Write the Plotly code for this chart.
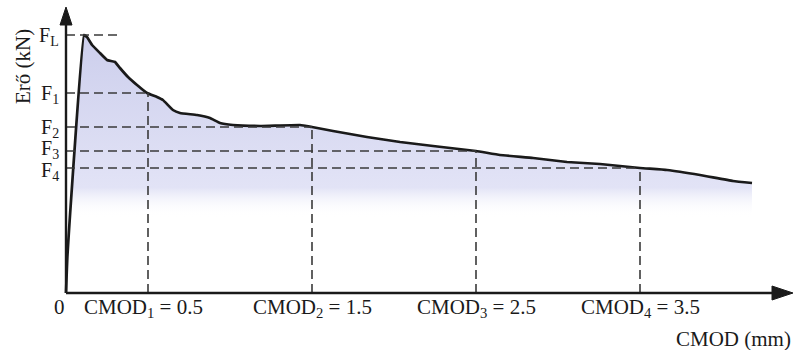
import plotly.graph_objects as go

# ---- data (CMOD in mm, force in arbitrary kN-like units) ----
cmod = [0.0, 0.009, 0.110, 0.128, 0.159, 0.207, 0.250, 0.299, 0.329, 0.378, 0.433,
        0.494, 0.555, 0.591, 0.652, 0.695, 0.799, 0.878, 0.939, 1.018, 1.183, 1.427,
        1.5, 1.628, 1.835, 2.037, 2.238, 2.5, 2.646, 2.848, 3.055, 3.256, 3.5, 3.665,
        3.866, 4.067, 4.183]
force = [0.0, 1.9, 12.9, 12.8, 12.4, 12.0, 11.65, 11.55, 11.25, 10.8, 10.4,
         10.0, 9.8, 9.65, 9.15, 9.0, 8.9, 8.75, 8.5, 8.4, 8.35, 8.4,
         8.3, 8.1, 7.8, 7.55, 7.35, 7.1, 6.9, 6.75, 6.55, 6.45, 6.25, 6.15,
         5.9, 5.6, 5.5]

level_labels = ["F<sub>L</sub>", "F<sub>1</sub>", "F<sub>2</sub>", "F<sub>3</sub>", "F<sub>4</sub>"]
level_values = [12.9, 10.0, 8.3, 7.1, 6.25]
level_ends = [0.317, 0.5, 1.5, 2.5, 3.5]

cmod_ticks = [0.5, 1.5, 2.5, 3.5]
cmod_forces = [10.0, 8.3, 7.1, 6.25]
cmod_labels = ["CMOD<sub>1</sub> = 0.5", "CMOD<sub>2</sub> = 1.5",
               "CMOD<sub>3</sub> = 2.5", "CMOD<sub>4</sub> = 3.5"]

x_title = "CMOD (mm)"
y_title = "Erő (kN)"

# ---- layout / style (pixel offsets, not data) ----
PX_PER_X = 164.0
PX_PER_Y = 20.0
X0_PX, Y0_PX = 66.0, 293.0
W, H = 796, 350
xr = [-X0_PX / PX_PER_X, (W - X0_PX) / PX_PER_X]
yr = [-(H - Y0_PX) / PX_PER_Y, Y0_PX / PX_PER_Y]
label_yshift = [-1, -1, -1, 2, -3]

def dx(px):
    return px / PX_PER_X

def dy(px):
    return px / PX_PER_Y

FONT = "Liberation Serif, Times New Roman, serif"
INK = "#1a1a1a"
DASH_COL = "#3a3a3a"
FS = 21

fig = go.Figure()

# filled curve with vertical gradient
fig.add_trace(go.Scatter(
    x=cmod, y=force, mode="lines",
    line=dict(color=INK, width=2.7, shape="spline", smoothing=0.3),
    fill="tozeroy",
    fillgradient=dict(type="vertical", start=3.8, stop=13.0,
                      colorscale=[[0, "rgba(255,255,255,0)"],
                                  [0.16, "rgb(226,227,246)"],
                                  [1, "rgb(204,206,236)"]]),
    hoverinfo="skip", showlegend=False,
))

shapes = []
# horizontal dashed reference lines
for v, e in zip(level_values, level_ends):
    shapes.append(dict(type="line", x0=0, x1=e, y0=v, y1=v,
                       line=dict(color=DASH_COL, width=1.6, dash="9px,5px"), layer="above"))
# vertical dashed reference lines
for t, f in zip(cmod_ticks, cmod_forces):
    shapes.append(dict(type="line", x0=t, x1=t, y0=0, y1=f,
                       line=dict(color=DASH_COL, width=1.6, dash="9px,5px"), layer="above"))

# axes with arrowheads
y_tip = yr[1] - dy(7)
y_base = yr[1] - dy(25)
x_tip = xr[0] + dx(793)
x_base = xr[0] + dx(772)
shapes.append(dict(type="line", x0=0, x1=0, y0=0, y1=y_base + dy(2),
                   line=dict(color=INK, width=2.4), layer="above"))
shapes.append(dict(type="line", x0=0, x1=x_base + dx(2), y0=0, y1=0,
                   line=dict(color=INK, width=2.4), layer="above"))
shapes.append(dict(type="path",
                   path=f"M {-dx(6)},{y_base} L 0,{y_tip} L {dx(6)},{y_base} Z",
                   fillcolor=INK, line=dict(color=INK, width=1), layer="above"))
shapes.append(dict(type="path",
                   path=f"M {x_base},{-dy(7)} L {x_tip},0 L {x_base},{dy(7)} Z",
                   fillcolor=INK, line=dict(color=INK, width=1), layer="above"))

annotations = []
for lab, v, ys in zip(level_labels, level_values, label_yshift):
    annotations.append(dict(x=-dx(5), y=v, text=lab, showarrow=False,
                            xanchor="right", yanchor="middle", yshift=ys,
                            font=dict(family=FONT, size=FS - 1, color=INK)))
for i, (lab, t) in enumerate(zip(cmod_labels, cmod_ticks)):
    annotations.append(dict(x=t, y=-dy(15), text=lab, showarrow=False,
                            xanchor="center", yanchor="middle",
                            xshift=-5 if i == 0 else 0,
                            font=dict(family=FONT, size=FS, color=INK)))
annotations.append(dict(x=-dx(7), y=-dy(14), text="0", showarrow=False,
                        xanchor="center", yanchor="middle",
                        font=dict(family=FONT, size=FS, color=INK)))
annotations.append(dict(x=x_tip, y=-dy(46), text=x_title, showarrow=False,
                        xanchor="right", yanchor="middle",
                        font=dict(family=FONT, size=FS, color=INK)))
annotations.append(dict(x=-dx(43), y=dy(226), text=y_title, showarrow=False,
                        textangle=-90, xanchor="center", yanchor="middle",
                        font=dict(family=FONT, size=FS, color=INK)))

fig.update_layout(
    width=W, height=H,
    margin=dict(l=0, r=0, t=0, b=0),
    paper_bgcolor="white", plot_bgcolor="white",
    xaxis=dict(range=xr, visible=False, fixedrange=True),
    yaxis=dict(range=yr, visible=False, fixedrange=True),
    shapes=shapes, annotations=annotations,
    showlegend=False,
)

fig.write_html("out.html", config=dict(displayModeBar=False),
               post_script="document.body.style.margin='0';document.body.style.padding='0';")
